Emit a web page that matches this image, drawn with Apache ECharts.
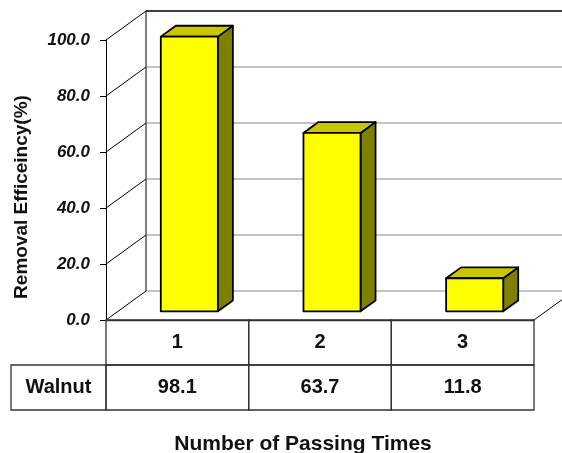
<!DOCTYPE html>
<html>
<head>
<meta charset="utf-8">
<script src="https://cdn.jsdelivr.net/npm/echarts@6/dist/echarts.min.js"></script>
<style>
  html, body { margin: 0; padding: 0; background: #fff; }
  #chart { width: 562px; height: 453px; }
</style>
</head>
<body>
<div id="chart"></div>
<script>
// data
var categories = ['1', '2', '3'];
var values = [98.1, 63.7, 11.8];
var seriesName = 'Walnut';
var yTicks = [0, 20, 40, 60, 80, 100];

// depth of the 3d box, pixels
var DX = 40, DY = -29;
// bar sits between these depth fractions
var D0 = 0.3, DD = 0.375;
var ROW = 45;
var FONT = 'Arial, "Liberation Sans", sans-serif';

var chart = echarts.init(document.getElementById('chart'));

// back wall + left wall lines, one item per y tick
function renderWalls(params, api) {
  var cs = params.coordSys;
  var v = api.value(1);
  var y = api.coord([0, v])[1];
  var x0 = cs.x, x1 = cs.x + cs.width;
  var isTop = v === yTicks[yTicks.length - 1];
  var kids = [
    { type: 'line', shape: { x1: x0, y1: y, x2: x0 + DX, y2: y + DY },
      style: { stroke: '#000', lineWidth: 1 } },
    { type: 'line', shape: { x1: x0 + DX, y1: y + DY, x2: x1 + DX, y2: y + DY },
      style: { stroke: isTop ? '#000' : '#888', lineWidth: isTop ? 1.5 : 1.2 } }
  ];
  if (v === 0) {
    var yTop = api.coord([0, yTicks[yTicks.length - 1]])[1];
    kids.push({ type: 'line', shape: { x1: x0 + DX, y1: y + DY, x2: x0 + DX, y2: yTop + DY },
      style: { stroke: '#000', lineWidth: 1 } });
    kids.push({ type: 'line', shape: { x1: x1, y1: y, x2: x1 + DX, y2: y + DY },
      style: { stroke: '#000', lineWidth: 1 } });
  }
  return { type: 'group', children: kids };
}

function renderBar(params, api) {
  var i = api.value(0), v = api.value(1);
  var base = api.coord([i, 0]);
  var top = api.coord([i, v]);
  var band = api.size([1, 0])[0];
  var w = band * 0.4;
  var ox = DX * D0, oy = DY * D0, dx = DX * DD, dy = DY * DD;
  var xl = base[0] - w / 2 + ox, xr = base[0] + w / 2 + ox;
  var yb = base[1] + oy, yt = top[1] + oy;
  var st = { stroke: '#000', lineWidth: 1.8, lineJoin: 'round' };
  return {
    type: 'group',
    children: [
      { type: 'polygon', shape: { points: [[xr, yt], [xr + dx, yt + dy], [xr + dx, yb + dy], [xr, yb]] },
        style: Object.assign({ fill: '#808000' }, st) },
      { type: 'polygon', shape: { points: [[xl, yt], [xl + dx, yt + dy], [xr + dx, yt + dy], [xr, yt]] },
        style: Object.assign({ fill: '#c8c800' }, st) },
      { type: 'rect', shape: { x: xl, y: yt, width: w, height: yb - yt },
        style: Object.assign({ fill: '#ffff00' }, st) }
    ]
  };
}

// data table under the plot
function renderTable(params, api) {
  var cs = params.coordSys;
  var i = api.value(0), v = api.value(1);
  var c = api.coord([i, 0]);
  var band = api.size([1, 0])[0];
  var xl = c[0] - band / 2;
  var yb = c[1];
  var line = { fill: 'none', stroke: '#333', lineWidth: 1.3 };
  var txt = { fill: '#111', font: 'bold 20px ' + FONT, align: 'center', verticalAlign: 'middle',
              textAlign: 'center', textVerticalAlign: 'middle' };
  var kids = [
    { type: 'rect', shape: { x: xl, y: yb, width: band, height: ROW }, style: line },
    { type: 'rect', shape: { x: xl, y: yb + ROW, width: band, height: ROW }, style: line },
    { type: 'text', style: Object.assign({ text: v.toFixed(1), x: c[0], y: yb + ROW * 1.5 }, txt) }
  ];
  if (i === 0) {
    kids.push({ type: 'rect', shape: { x: cs.x - 95, y: yb + ROW, width: 95, height: ROW }, style: line });
    kids.push({ type: 'text', style: Object.assign({ text: seriesName, x: cs.x - 47.5, y: yb + ROW * 1.5 }, txt) });
  }
  return { type: 'group', children: kids };
}

var option = {
  animation: false,
  backgroundColor: '#fff',
  grid: { left: 106, top: 40, width: 428, height: 280 },
  xAxis: {
    type: 'category',
    data: categories,
    axisLine: { show: true, lineStyle: { color: '#333', width: 1.3 } },
    axisTick: { show: false },
    axisLabel: { color: '#111', fontSize: 20, fontWeight: 'bold', fontFamily: FONT, margin: 12 },
    splitLine: { show: false }
  },
  yAxis: {
    type: 'value',
    min: 0,
    max: 100,
    interval: 20,
    axisLine: { show: true, lineStyle: { color: '#000', width: 1 } },
    axisTick: { show: true, length: 6, lineStyle: { color: '#000' } },
    axisLabel: {
      color: '#111', fontSize: 17, fontWeight: 'bold', fontStyle: 'italic', fontFamily: FONT, margin: 16,
      formatter: function (val) { return val.toFixed(1); }
    },
    splitLine: { show: false }
  },
  graphic: [
    { type: 'text', x: 22, y: 197, rotation: Math.PI / 2,
      style: { text: 'Removal Efficeincy(%)', fill: '#111', font: 'bold 19px ' + FONT,
               align: 'center', verticalAlign: 'middle' } },
    { type: 'text', x: 303, y: 444,
      style: { text: 'Number of Passing Times', fill: '#111', font: 'bold 21px ' + FONT,
               align: 'center', verticalAlign: 'middle' } }
  ],
  series: [
    { type: 'custom', name: 'walls', z: 1, renderItem: renderWalls,
      data: yTicks.map(function (v) { return [0, v]; }) },
    { type: 'custom', name: seriesName, z: 3, renderItem: renderBar,
      data: values.map(function (v, i) { return [i, v]; }) },
    { type: 'custom', name: 'table', z: 2, renderItem: renderTable,
      data: values.map(function (v, i) { return [i, v]; }) }
  ]
};

chart.setOption(option);
</script>
</body>
</html>
